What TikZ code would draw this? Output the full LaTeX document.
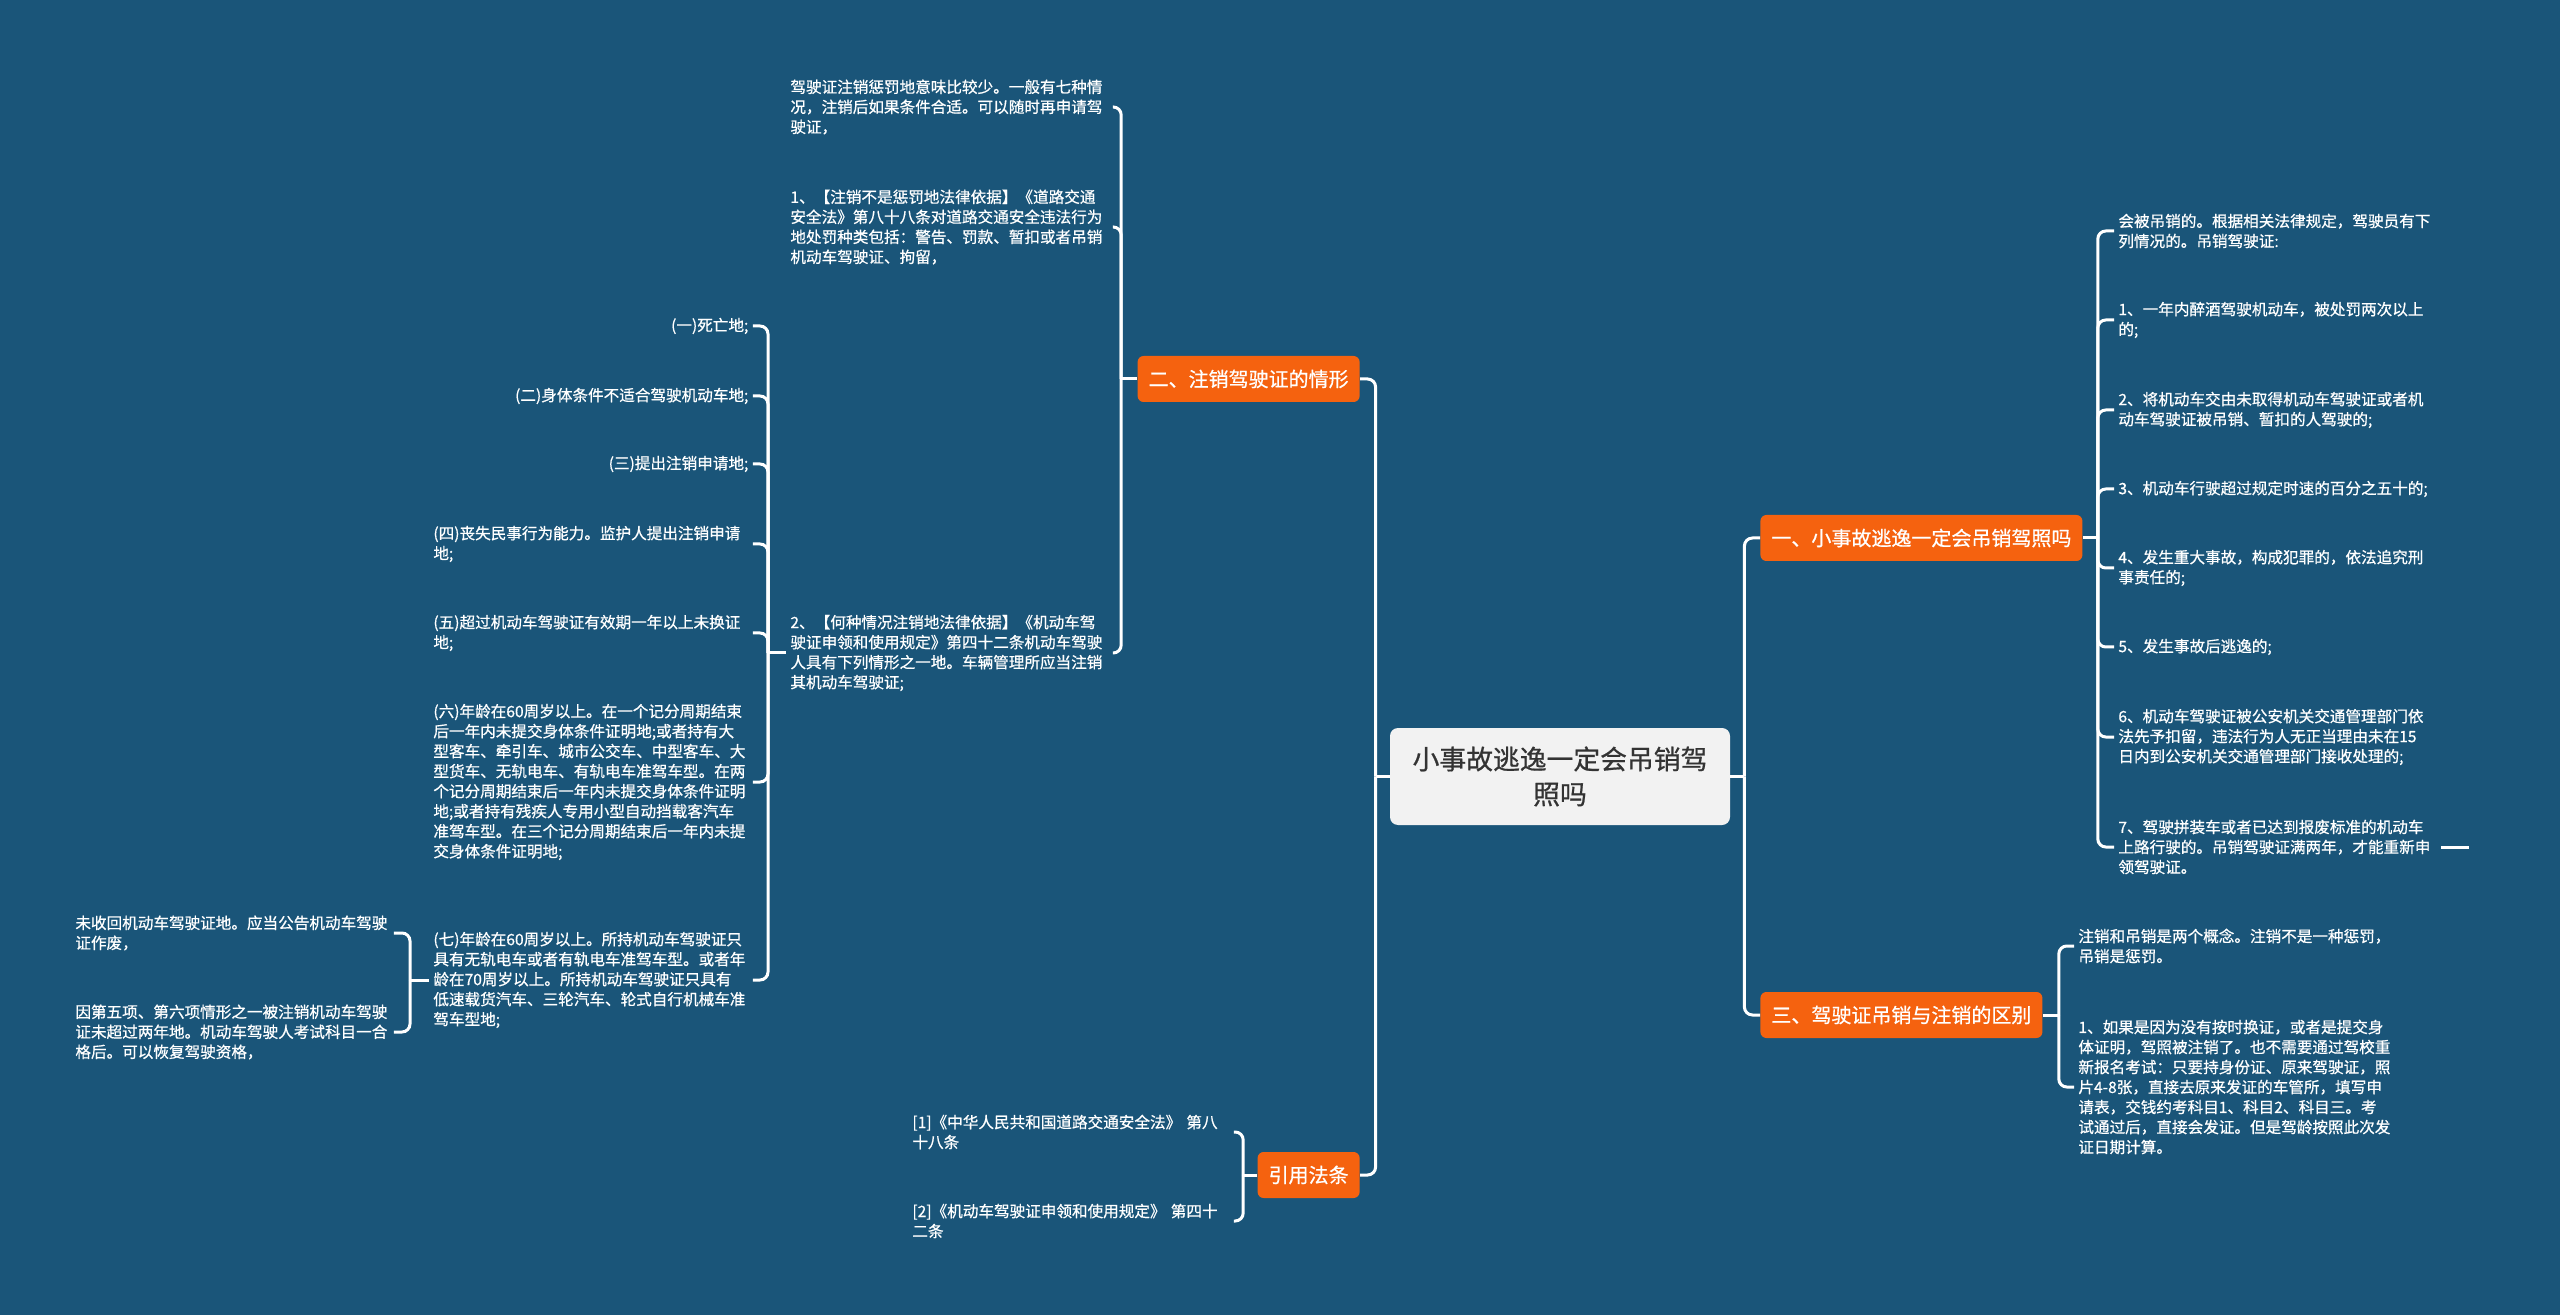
\documentclass[tikz,border=0pt]{standalone}
\usepackage{fontspec}
\setmainfont{Noto Sans CJK SC}[RawFeature={embolden=0.7}]
\definecolor{bg}{HTML}{1A5579}
\definecolor{org}{HTML}{F5620F}
\definecolor{rootfill}{HTML}{F2F2F2}
\definecolor{roottext}{HTML}{333333}
\tikzset{
  conn/.style={draw=white, line width=1.5pt, rounded corners=4pt},
  leaf/.style={inner xsep=2pt, inner ysep=1pt, text=white,
    font={\fontsize{7.8}{10}\selectfont}, align=left, text width=#1},
  branch/.style={fill=org, text=white, rounded corners=3pt, inner xsep=5.5pt,
    inner ysep=0pt, minimum height=23pt, font={\fontsize{10}{12}\selectfont}},
  rootbox/.style={fill=rootfill, text=roottext, rounded corners=4pt,
    minimum width=170pt, minimum height=48.5pt, text width=150pt, align=center,
    inner sep=0pt, font={\fontsize{13.4}{17.5}\selectfont}}
}
\begin{document}
\begin{tikzpicture}[x=0.5pt,y=-0.5pt]
\fill[bg] (0,0) rectangle (2560,1315);
\useasboundingbox (0,0) rectangle (2560,1315);

% root and branches
\node[rootbox] (root) at (1560,776.5) {小事故逃逸一定会吊销驾\\照吗};
\node[branch, anchor=east] (b2) at (1360,379) {二、注销驾驶证的情形};
\node[branch, anchor=west] (b1) at (1760,538) {一、小事故逃逸一定会吊销驾照吗};
\node[branch, anchor=west] (b3) at (1760,1015) {三、驾驶证吊销与注销的区别};
\node[branch, anchor=east] (b4) at (1360,1175) {引用法条};

% column A: children of 二
\node[leaf=159pt, anchor=west] (a1) at (786,107) {驾驶证注销惩罚地意味比较少。一般有七种情\\况，注销后如果条件合适。可以随时再申请驾\\驶证，};
\node[leaf=159pt, anchor=west] (a2) at (786,227) {1、【注销不是惩罚地法律依据】《道路交通\\安全法》第八十八条对道路交通安全违法行为\\地处罚种类包括：警告、罚款、暂扣或者吊销\\机动车驾驶证、拘留，};
\node[leaf=159pt, anchor=west] (a3) at (786,653) {2、【何种情况注销地法律依据】《机动车驾\\驶证申领和使用规定》第四十二条机动车驾驶\\人具有下列情形之一地。车辆管理所应当注销\\其机动车驾驶证;};

% column B: seven cases
\node[leaf=157.5pt, align=right, anchor=west] (s1) at (429,326) {(一)死亡地;};
\node[leaf=157.5pt, align=right, anchor=west] (s2) at (429,396) {(二)身体条件不适合驾驶机动车地;};
\node[leaf=157.5pt, align=right, anchor=west] (s3) at (429,464) {(三)提出注销申请地;};
\node[leaf=157.5pt, anchor=west] (s4) at (429,544) {(四)丧失民事行为能力。监护人提出注销申请\\地;};
\node[leaf=157.5pt, anchor=west] (s5) at (429,633) {(五)超过机动车驾驶证有效期一年以上未换证\\地;};
\node[leaf=157.5pt, anchor=west] (s6) at (429,782) {(六)年龄在60周岁以上。在一个记分周期结束\\后一年内未提交身体条件证明地;或者持有大\\型客车、牵引车、城市公交车、中型客车、大\\型货车、无轨电车、有轨电车准驾车型。在两\\个记分周期结束后一年内未提交身体条件证明\\地;或者持有残疾人专用小型自动挡载客汽车\\准驾车型。在三个记分周期结束后一年内未提\\交身体条件证明地;};
\node[leaf=157.5pt, anchor=west] (s7) at (429,980) {(七)年龄在60周岁以上。所持机动车驾驶证只\\具有无轨电车或者有轨电车准驾车型。或者年\\龄在70周岁以上。所持机动车驾驶证只具有\\低速载货汽车、三轮汽车、轮式自行机械车准\\驾车型地;};

% column C: children of (七)
\node[leaf=157pt, anchor=west] (t1) at (71,933) {未收回机动车驾驶证地。应当公告机动车驾驶\\证作废，};
\node[leaf=157pt, anchor=west] (t2) at (71,1032) {因第五项、第六项情形之一被注销机动车驾驶\\证未超过两年地。机动车驾驶人考试科目一合\\格后。可以恢复驾驶资格，};

% column D: references
\node[leaf=158.5pt, anchor=west] (d1) at (908,1132) {[1]《中华人民共和国道路交通安全法》 第八\\十八条};
\node[leaf=158.5pt, anchor=west] (d2) at (908,1221) {[2]《机动车驾驶证申领和使用规定》 第四十\\二条};

% column E: children of 一
\node[leaf=159pt, anchor=west] (e0) at (2114,231) {会被吊销的。根据相关法律规定，驾驶员有下\\列情况的。吊销驾驶证:};
\node[leaf=159pt, anchor=west] (e1) at (2114,320) {1、一年内醉酒驾驶机动车，被处罚两次以上\\的;};
\node[leaf=159pt, anchor=west] (e2) at (2114,410) {2、将机动车交由未取得机动车驾驶证或者机\\动车驾驶证被吊销、暂扣的人驾驶的;};
\node[leaf=159pt, anchor=west] (e3) at (2114,489) {3、机动车行驶超过规定时速的百分之五十的;};
\node[leaf=159pt, anchor=west] (e4) at (2114,568) {4、发生重大事故，构成犯罪的，依法追究刑\\事责任的;};
\node[leaf=159pt, anchor=west] (e5) at (2114,647) {5、发生事故后逃逸的;};
\node[leaf=159pt, anchor=west] (e6) at (2114,737) {6、机动车驾驶证被公安机关交通管理部门依\\法先予扣留，违法行为人无正当理由未在15\\日内到公安机关交通管理部门接收处理的;};
\node[leaf=159pt, anchor=west] (e7) at (2114,847) {7、驾驶拼装车或者已达到报废标准的机动车\\上路行驶的。吊销驾驶证满两年，才能重新申\\领驾驶证。};

% column F: children of 三
\node[leaf=159pt, anchor=west] (f0) at (2074,946) {注销和吊销是两个概念。注销不是一种惩罚，\\吊销是惩罚。};
\node[leaf=159pt, anchor=west] (f1) at (2074,1087) {1、如果是因为没有按时换证，或者是提交身\\体证明，驾照被注销了。也不需要通过驾校重\\新报名考试：只要持身份证、原来驾驶证，照\\片4-8张，直接去原来发证的车管所，填写申\\请表，交钱约考科目1、科目2、科目三。考\\试通过后，直接会发证。但是驾龄按照此次发\\证日期计算。};

% junctions
\coordinate (jL) at ([xshift=-7pt]root.west);
\coordinate (jR) at ([xshift=7pt]root.east);
\coordinate (jA) at ([xshift=-8pt]b2.west);
\coordinate (jB) at ([xshift=-9pt]a3.west);
\coordinate (jC) at ([xshift=-9.5pt]s7.west);
\coordinate (jD) at ([xshift=-7pt]b4.west);
\coordinate (jE) at ([xshift=7.5pt]b1.east);
\coordinate (jF) at ([xshift=8pt]b3.east);
\coordinate (tail) at ([xshift=14pt]e7.east);

% connectors
\draw[conn] (root.west) -- (jL);
\draw[conn] (jL) |- (b2.east);
\draw[conn] (jL) |- (b4.east);
\draw[conn] (root.east) -- (jR);
\draw[conn] (jR) |- (b1.west);
\draw[conn] (jR) |- (b3.west);

\draw[conn] (b2.west) -- (jA);
\foreach \n in {a1,a2,a3} \draw[conn] (jA) |- (\n.east);

\draw[conn] (a3.west) -- (jB);
\foreach \n in {s1,s2,s3,s4,s5,s6,s7} \draw[conn] (jB) |- (\n.east);

\draw[conn] (s7.west) -- (jC);
\foreach \n in {t1,t2} \draw[conn] (jC) |- (\n.east);

\draw[conn] (b4.west) -- (jD);
\foreach \n in {d1,d2} \draw[conn] (jD) |- (\n.east);

\draw[conn] (b1.east) -- (jE);
\foreach \n in {e0,e1,e2,e3,e4,e5,e6,e7} \draw[conn] (jE) |- (\n.west);

\draw[conn] (b3.east) -- (jF);
\foreach \n in {f0,f1} \draw[conn] (jF) |- (\n.west);

\draw[conn] (e7.east) -- (tail);
\end{tikzpicture}
\end{document}
